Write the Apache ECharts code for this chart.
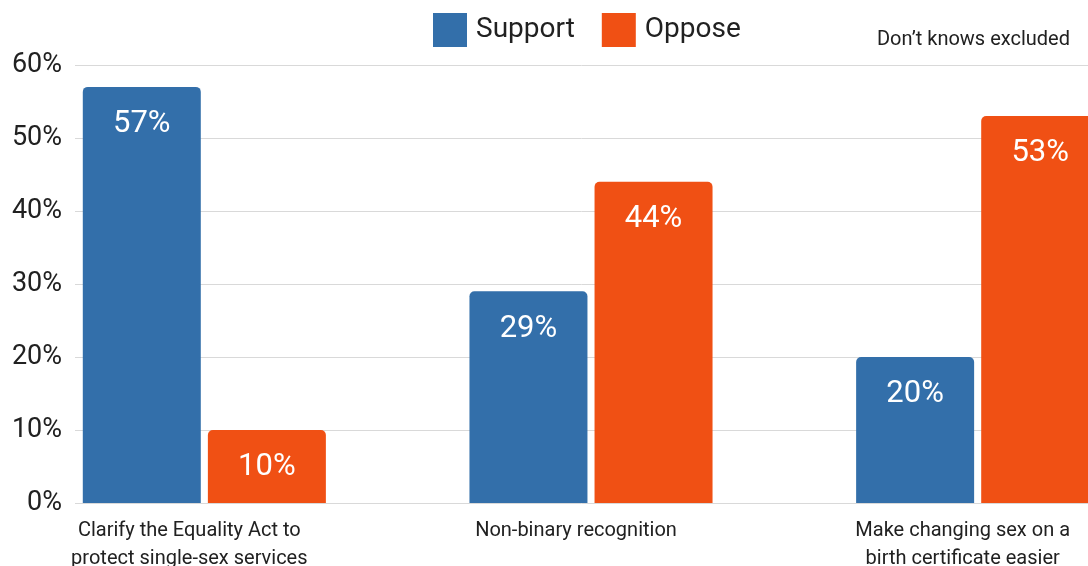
<!DOCTYPE html>
<html>
<head>
<meta charset="utf-8">
<style>
  html, body { margin: 0; padding: 0; background: #ffffff; }
  #chart { width: 1088px; height: 566px; }
</style>
<script src="https://cdn.jsdelivr.net/npm/echarts@6/dist/echarts.min.js"></script>
</head>
<body>
<div id="chart"></div>
<script>
// Survey responses, share of respondents (%)
const categories = [
  'Clarify the Equality Act to\nprotect single-sex services',
  'Non-binary recognition',
  'Make changing sex on a\nbirth certificate easier'
];
const supportValues = [57, 29, 20];
const opposeValues = [10, 44, 53];
const seriesNames = ['Support', 'Oppose'];
const yMax = 60;
const yStep = 10;
const note = 'Don\u2019t knows excluded';

const FONT = 'Roboto, "Noto Sans", sans-serif';
const TEXT = '#212121';
const BLUE = '#336FAA';
const ORANGE = '#F05014';

const chart = echarts.init(document.getElementById('chart'), null, { renderer: 'canvas' });

const barLabel = {
  show: true,
  position: 'insideTop',
  distance: 22,
  color: '#ffffff',
  fontFamily: FONT,
  fontSize: 31,
  formatter: '{c}%'
};

chart.setOption({
  animation: false,
  backgroundColor: '#ffffff',
  textStyle: { fontFamily: FONT },
  legend: {
    data: seriesNames,
    left: 428,
    top: 8,
    icon: 'rect',
    itemWidth: 34,
    itemHeight: 34,
    itemGap: 27,
    textStyle: { fontFamily: FONT, fontSize: 28, color: TEXT, padding: [0, 0, 0, 4] }
  },
  graphic: [{
    type: 'text',
    right: 18,
    top: 30,
    style: { text: note, fontFamily: FONT, fontSize: 20, fill: TEXT }
  }],
  grid: [
    // value scale and gridlines
    { left: 75, right: 0, top: 65, bottom: 63, outerBoundsMode: 'none' },
    // grouped bars; the last band runs past the right edge
    { left: 11, width: 1160, top: 65, bottom: 63, outerBoundsMode: 'none' }
  ],
  xAxis: [
    { gridIndex: 0, type: 'category', data: [''], show: false },
    {
      gridIndex: 1,
      type: 'category',
      data: categories,
      axisLine: { show: false },
      axisTick: { show: false },
      axisLabel: {
        interval: 0,
        margin: 14,
        fontFamily: FONT,
        fontSize: 20,
        lineHeight: 28,
        color: TEXT,
        padding: [0, 30, 0, 0]
      }
    }
  ],
  yAxis: [
    {
      gridIndex: 0,
      type: 'value',
      min: 0,
      max: yMax,
      interval: yStep,
      axisLine: { show: false },
      axisTick: { show: false },
      axisLabel: {
        formatter: '{value}%',
        margin: 13,
        fontFamily: FONT,
        fontSize: 27,
        color: TEXT,
        padding: [5, 0, 0, 0]
      },
      splitLine: { lineStyle: { color: '#d9d9d9', width: 1 } }
    },
    {
      gridIndex: 1,
      type: 'value',
      min: 0,
      max: yMax,
      interval: yStep,
      show: false,
      splitLine: { show: false }
    }
  ],
  series: [
    {
      name: seriesNames[0],
      type: 'bar',
      xAxisIndex: 1,
      yAxisIndex: 1,
      data: supportValues,
      barWidth: 118,
      barGap: '6%',
      itemStyle: { color: BLUE, borderRadius: [5, 5, 0, 0] },
      label: barLabel
    },
    {
      name: seriesNames[1],
      type: 'bar',
      xAxisIndex: 1,
      yAxisIndex: 1,
      data: opposeValues,
      barWidth: 118,
      barGap: '6%',
      itemStyle: { color: ORANGE, borderRadius: [5, 5, 0, 0] },
      label: barLabel
    }
  ]
});
</script>
</body>
</html>
